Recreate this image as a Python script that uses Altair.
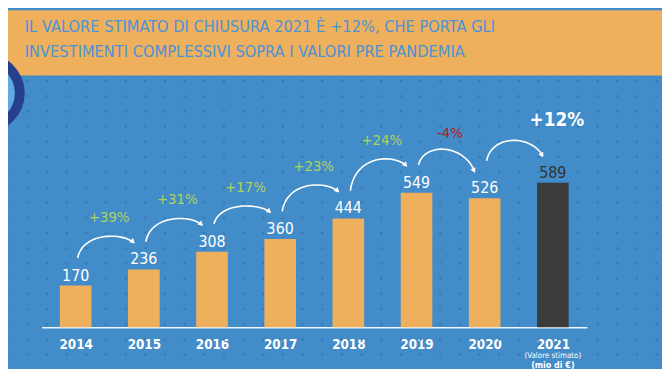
import math
import altair as alt
import pandas as pd

# ---------------- data ----------------
years = ["2014", "2015", "2016", "2017", "2018", "2019", "2020", "2021"]
values = [170, 236, 308, 360, 444, 549, 526, 589]
changes = ["+39%", "+31%", "+17%", "+23%", "+24%", "-4%", "+12%"]
title_lines = [
    "IL VALORE STIMATO DI CHIUSURA 2021 È +12%, CHE PORTA GLI",
    "INVESTIMENTI COMPLESSIVI SOPRA I VALORI PRE PANDEMIA",
]
estimate_note = "(Valore stimato)"
unit_note = "(mio di €)"

# ---------------- layout / style ----------------
PLOT_W, PLOT_H = 552, 321
PAD = {"left": 34, "right": 76, "top": 0, "bottom": 40}
N = len(years)
STEP = PLOT_W / N
Y_MAX = 1293
PXU = PLOT_H / Y_MAX          # px per unit on y
BAR_HALF = 16 / STEP

BG = "#428CC9"
DOT = "#3978B3"
ORANGE = "#EFB05E"
DARK = "#3B3B3B"
TITLE_BLUE = "#4A93D6"
GREEN = "#AED35E"
RED = "#B01C22"
NAVY = "#283F8E"
FONT = "DejaVu Sans Condensed, Liberation Sans Narrow, Arial Narrow, sans-serif"

x_scale = alt.Scale(domain=[-0.5, N - 0.5], nice=False, zero=False)
y_scale = alt.Scale(domain=[0, Y_MAX], nice=False, zero=False)
label_expr = "[" + ",".join(f"'{y}'" for y in years) + "][datum.value]"
x_axis = alt.Axis(
    values=list(range(N)),
    labelExpr=label_expr,
    domainColor="#F2F6FA",
    domainWidth=1.5,
    ticks=False,
    tickSize=0,
    grid=False,
    title=None,
    labelColor="white",
    labelFont=FONT,
    labelFontSize=13.5,
    labelFontWeight="bold",
    labelBaseline="alphabetic",
    labelPadding=21,
    labelAngle=0,
)


def X(field, **kw):
    return alt.X(field, scale=x_scale, axis=x_axis, **kw)


def Y(field, **kw):
    return alt.Y(field, scale=y_scale, axis=None, **kw)


one = pd.DataFrame({"a": [0]})

# ---------------- bars ----------------
bars_df = pd.DataFrame({"idx": list(range(N)), "year": years, "value": values})

bars = (
    alt.Chart(bars_df)
    .transform_calculate(x0=f"datum.idx - {BAR_HALF}", x1=f"datum.idx + {BAR_HALF}", base="0")
    .mark_rect()
    .encode(
        x=X("x0:Q"),
        x2="x1:Q",
        y=Y("value:Q"),
        y2="base:Q",
        color=alt.condition(alt.datum.idx == N - 1, alt.value(DARK), alt.value(ORANGE)),
    )
)

value_labels = (
    alt.Chart(bars_df)
    .mark_text(font=FONT, fontSize=16, baseline="alphabetic", dy=-5)
    .encode(
        x=X("idx:Q"),
        y=Y("value:Q"),
        text="value:Q",
        color=alt.condition(alt.datum.idx == N - 1, alt.value("#333333"), alt.value("white")),
    )
)

# ---------------- arcs between bars (derived from the values) ----------------
arc_rows, head_rows, pct_rows = [], [], []
for i in range(N - 1):
    hi = i == N - 2
    v0, v1 = values[i], values[i + 1]
    down = v1 < v0
    sx, sy = i * STEP + 2, v0 * PXU + (38 if hi else 28)
    ex, ey = (i + 1) * STEP - 10, v1 * PXU + 27
    h = 16 if (hi or down) else 6
    yp = max(sy, ey) + h
    c = (8 * yp - sy - ey) / 6
    p = [(sx, sy), (sx + 5, c), (ex - 12, c), (ex, ey)]
    for k in range(21):
        t = k / 20
        b = [(1 - t) ** 3, 3 * (1 - t) ** 2 * t, 3 * (1 - t) * t ** 2, t ** 3]
        bx = sum(w * q[0] for w, q in zip(b, p))
        by = sum(w * q[1] for w, q in zip(b, p))
        arc_rows.append({"arc": i, "k": k, "x": bx / STEP, "y": by / PXU})
    ang = math.degrees(math.atan2(c - ey, 12)) % 360
    head_rows.append({"x": (ex - 1) / STEP, "y": (ey + 1) / PXU, "ang": ang})
    mx = (p[0][0] + 3 * p[1][0] + 3 * p[2][0] + p[3][0]) / 8
    pct_rows.append(
        {
            "x": ((i + 1) * STEP + 4 if hi else mx + 6) / STEP,
            "y": (yp + (21 if hi else (16 if down else 20))) / PXU,
            "text": changes[i],
            "col": RED if changes[i].startswith("-") else GREEN,
            "hi": hi,
        }
    )

arcs = (
    alt.Chart(pd.DataFrame(arc_rows))
    .mark_line(color="white", strokeWidth=1.6)
    .encode(x=X("x:Q"), y=Y("y:Q"), detail="arc:N", order="k:Q")
)
heads = (
    alt.Chart(pd.DataFrame(head_rows))
    .mark_point(shape="triangle-right", filled=True, size=32, color="white", opacity=1)
    .encode(x=X("x:Q"), y=Y("y:Q"), angle=alt.Angle("ang:Q", scale=None))
)
pct_df = pd.DataFrame(pct_rows)
pct = (
    alt.Chart(pct_df[~pct_df["hi"]])
    .mark_text(font=FONT, fontSize=15, baseline="middle")
    .encode(x=X("x:Q"), y=Y("y:Q"), text="text:N", color=alt.Color("col:N", scale=None))
)
pct_hi = (
    alt.Chart(pct_df[pct_df["hi"]])
    .mark_text(font=FONT, fontSize=19, fontWeight="bold", baseline="middle", color="white")
    .encode(x=X("x:Q"), y=Y("y:Q"), text="text:N")
)

# ---------------- notes under 2021 ----------------
notes_df = pd.DataFrame({"idx": [N - 1]})
note1 = (
    alt.Chart(notes_df)
    .mark_text(text=estimate_note, font=FONT, fontSize=8, color="white", baseline="middle")
    .encode(x=X("idx:Q"), y=alt.value(PLOT_H + 29))
)
note2 = (
    alt.Chart(notes_df)
    .mark_text(text=unit_note, font=FONT, fontSize=9, fontWeight="bold", color="white", baseline="middle")
    .encode(x=X("idx:Q"), y=alt.value(PLOT_H + 38.5))
)

# ---------------- background decoration ----------------
COLS, ROWS = 34, 20
dots = (
    alt.Chart(alt.sequence(0, COLS * ROWS, as_="k"))
    .transform_calculate(
        px=f"7.7 + 19.9 * (datum.k % {COLS}) - 8 - {PAD['left']}",
        py=f"79.6 + 15.4 * floor(datum.k / {COLS}) - 8",
    )
    .transform_calculate(gx=f"datum.px / {STEP} - 0.5", gy=f"({PLOT_H} - datum.py) / {PXU}")
    .mark_circle(size=6, color=DOT, opacity=1)
    .encode(x=X("gx:Q"), y=Y("gy:Q"))
)

banner = (
    alt.Chart(one)
    .mark_rect(color=ORANGE)
    .encode(
        x=alt.value(-PAD["left"]),
        x2=alt.value(PLOT_W + PAD["right"]),
        y=alt.value(0),
        y2=alt.value(66),
    )
)
logo_ring = (
    alt.Chart(one)
    .mark_arc(radius=40, radius2=30, theta=0, theta2=2 * math.pi, color=NAVY)
    .encode(x=alt.value(-57), y=alt.value(84))
)
logo_fill = (
    alt.Chart(one)
    .mark_arc(radius=30, theta=0, theta2=2 * math.pi, color="#5FA9E4")
    .encode(x=alt.value(-57), y=alt.value(84))
)
title1 = (
    alt.Chart(one)
    .mark_text(text=title_lines[0], font=FONT, fontSize=16.5, color=TITLE_BLUE, align="left", baseline="middle")
    .encode(x=alt.value(-17), y=alt.value(17))
)
title2 = (
    alt.Chart(one)
    .mark_text(text=title_lines[1], font=FONT, fontSize=16.5, color=TITLE_BLUE, align="left", baseline="middle")
    .encode(x=alt.value(-17), y=alt.value(42))
)

chart = (
    alt.layer(
        dots, banner, logo_fill, logo_ring, title1, title2,
        bars, value_labels, arcs, heads, pct, pct_hi, note1, note2,
    )
    .properties(
        width=PLOT_W,
        height=PLOT_H,
        autosize=alt.AutoSizeParams(type="none"),
        padding=PAD,
        background=BG,
    )
    .configure_view(stroke=None)
)

chart.save("out.html", embed_options={"renderer": "svg", "actions": False})
